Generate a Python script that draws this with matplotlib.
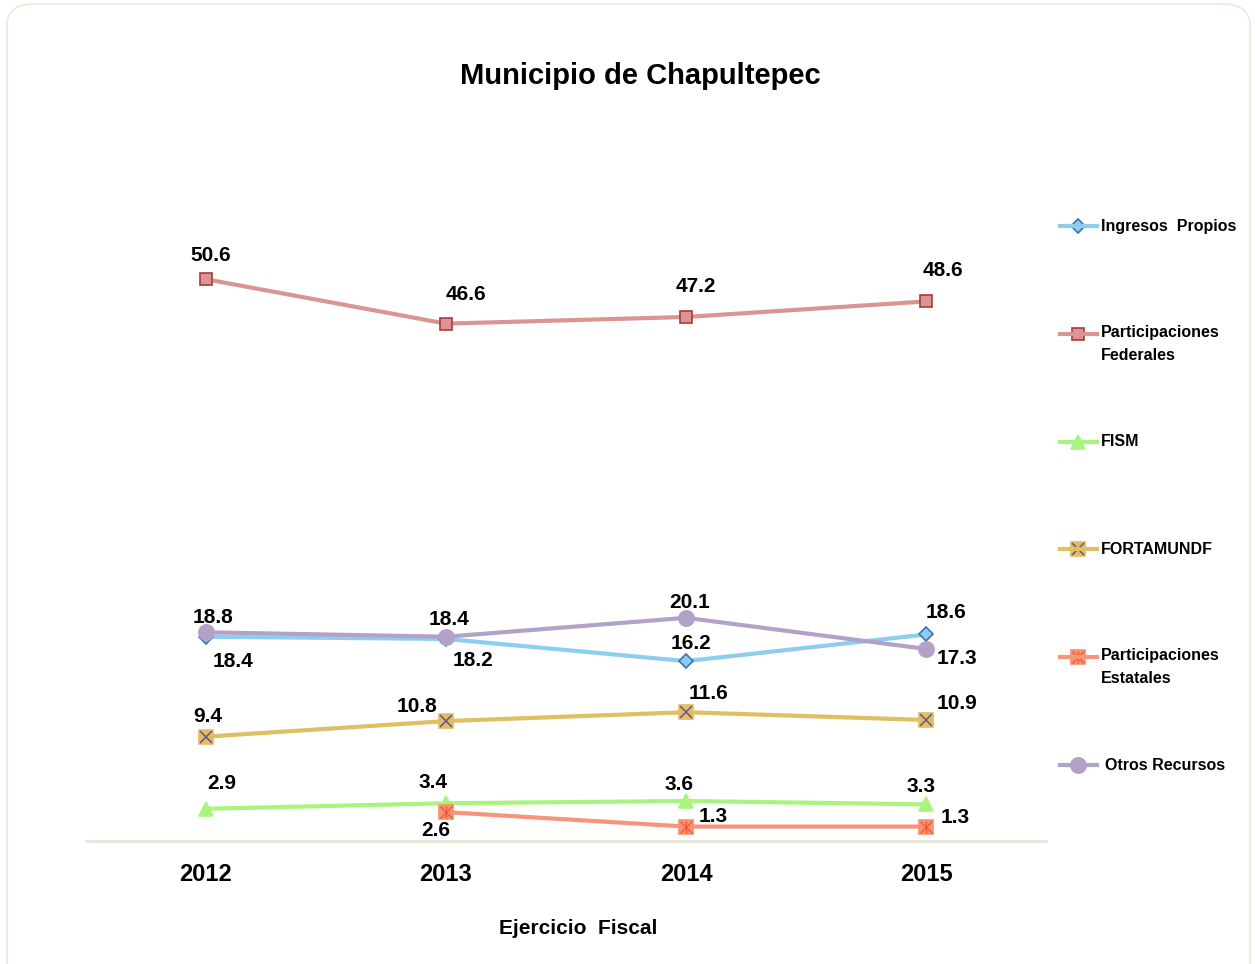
import numpy as np
import matplotlib
matplotlib.use("Agg")
import matplotlib.pyplot as plt
from matplotlib.lines import Line2D
from matplotlib.patches import FancyBboxPatch

plt.rcParams['font.family'] = ['Liberation Sans', 'DejaVu Sans']

# datos por fuente de ingreso (porcentaje)
anios = ['2012', '2013', '2014', '2015']
ingresos_propios = [18.4, 18.2, 16.2, 18.6]
part_federales = [50.6, 46.6, 47.2, 48.6]
fism = [2.9, 3.4, 3.6, 3.3]
fortamundf = [9.4, 10.8, 11.6, 10.9]
part_estatales = [np.nan, 2.6, 1.3, 1.3]
otros_recursos = [18.8, 18.4, 20.1, 17.3]

nombres = ['Ingresos  Propios', 'Participaciones\nFederales', 'FISM',
           'FORTAMUNDF', 'Participaciones\nEstatales', 'Otros Recursos']
series = [ingresos_propios, part_federales, fism, fortamundf,
          part_estatales, otros_recursos]

# estilo de cada serie: color linea, marcador, relleno, borde, marcador extra
estilos = [
    dict(c='#8DCDF0', m='D', ms=7, fc='#8DCDF0', ec='#3F72B5', extra=None),
    dict(c='#D99594', m='s', ms=9, fc='#D99594', ec='#A83A3A', extra=None),
    dict(c='#A8F57E', m='^', ms=10, fc='#A8F57E', ec='#A8F57E', extra=None),
    dict(c='#E0BE62', m='s', ms=10, fc='#E0BE62', ec='#E0BE62', extra='x'),
    dict(c='#F7957A', m='s', ms=10, fc='#F7916F', ec='#F7916F', extra='*'),
    dict(c='#B3A2C7', m='o', ms=11, fc='#B3A2C7', ec='#B3A2C7', extra=None),
]

# desplazamiento de etiquetas (pixeles)
desp = [
    [(27, -25), (27, -22), (5, 18), (20, 22)],
    [(5, 24), (20, 29), (10, 30), (17, 31)],
    [(16, 25), (-13, 21), (-7, 17), (-5, 18)],
    [(2, 20), (-29, 15), (22, 19), (31, 16)],
    [None, (-10, -18), (27, 10), (29, 9)],
    [(7, 15), (3, 17), (4, 15), (31, -10)],
]


def marcador(ax, x, y, e, ms, **kw):
    # marcador base y, si aplica, la cruz o el asterisco encima
    ax.plot(x, y, ls='none', marker=e['m'], ms=ms, mfc=e['fc'],
            mec=e['ec'], mew=1.2, zorder=4, **kw)
    if e['extra'] == 'x':
        ax.plot(x, y, ls='none', marker='x', ms=ms - 1, mec='#6B4E8E',
                mew=1.1, zorder=5, **kw)
    elif e['extra'] == '*':
        for mm in ['x', '|']:
            ax.plot(x, y, ls='none', marker=mm, ms=ms - 1, mec='#F25A3A',
                    mew=1.0, zorder=5, **kw)


fig = plt.figure(figsize=(12.55, 9.64), dpi=100)
fig.patch.set_facecolor('white')

# marco redondeado
marco = FancyBboxPatch((7 / 1255, -0.02), 1243 / 1255, 1 - 4 / 964 + 0.02,
                       boxstyle='round,pad=0,rounding_size=0.022',
                       transform=fig.transFigure, fc='white', ec='#ECE9DA',
                       lw=1.2, zorder=0)
fig.add_artist(marco)

ax = fig.add_axes([0.0685, 0.1276, 0.765, 0.691])
ax.set_facecolor('none')
x = np.arange(len(anios))

for vals, e, off in zip(series, estilos, desp):
    ax.plot(x, vals, color=e['c'], lw=3, zorder=3, solid_capstyle='round')
    marcador(ax, x, vals, e, e['ms'])
    for xi, v, o in zip(x, vals, off):
        if np.isnan(v):
            continue
        ax.annotate(f'{v:.1f}', (xi, v), xytext=o, textcoords='offset pixels',
                    ha='center', va='center', fontsize=15, fontweight='bold',
                    color='black', zorder=6)

ax.set_xlim(-0.5, 3.5)
ax.set_ylim(0, 60)
ax.set_yticks([])
ax.set_xticks(x)
ax.set_xticklabels(anios, fontsize=17, fontweight='bold')
ax.tick_params(axis='x', length=0, pad=16)
for s in ['top', 'right', 'left']:
    ax.spines[s].set_visible(False)
ax.spines['bottom'].set_color('#E8E6DA')
ax.spines['bottom'].set_linewidth(2)

fig.text(578 / 1255, 1 - 929 / 964, 'Ejercicio  Fiscal', ha='center',
         va='center', fontsize=15, fontweight='bold')
fig.text(640 / 1255, 1 - 76 / 964, 'Municipio de Chapultepec', ha='center',
         va='center', fontsize=21, fontweight='bold')

# leyenda a la derecha
for i, (nombre, e) in enumerate(zip(nombres, estilos)):
    yl = 1 - (226 + i * 107.8) / 964
    fig.add_artist(Line2D([1060 / 1255, 1097 / 1255], [yl, yl],
                          transform=fig.transFigure, color=e['c'], lw=3))
    marcador(ax, [1078 / 1255], [yl], e, e['ms'],
             transform=fig.transFigure, clip_on=False)
    tx = 1101 / 1255 if i != 5 else 1105 / 1255
    if '\n' in nombre:
        fig.text(tx, yl + 9 / 964, nombre, ha='left', va='top',
                 fontsize=11.5, fontweight='bold', linespacing=1.65)
    else:
        fig.text(tx, yl, nombre, ha='left', va='center',
                 fontsize=11.5, fontweight='bold')

fig.savefig('out.png', dpi=100)
